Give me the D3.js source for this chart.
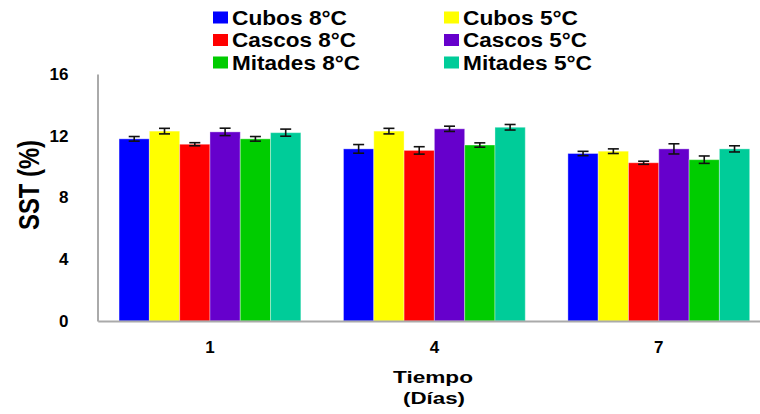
<!DOCTYPE html>
<html>
<head>
<meta charset="utf-8">
<script src="https://cdn.jsdelivr.net/npm/d3@7"></script>
<style>
  body { margin: 0; background: #fff; }
  text { font-family: "Liberation Sans", Arial, sans-serif; font-weight: bold; fill: #000; }
</style>
</head>
<body>
<div id="chart"></div>
<script>
// data
var days = ["1", "4", "7"];
var series = ["Cubos 8°C", "Cubos 5°C", "Cascos 8°C", "Cascos 5°C", "Mitades 8°C", "Mitades 5°C"];
var colors = ["#0000ff", "#ffff00", "#ff0000", "#6600cc", "#00cc00", "#00cc99"];

var cubos8 = [11.8, 11.15, 10.85];
var cubos5 = [12.3, 12.3, 11.0];
var cascos8 = [11.45, 11.05, 10.25];
var cascos5 = [12.25, 12.45, 11.15];
var mitades8 = [11.8, 11.4, 10.45];
var mitades5 = [12.2, 12.55, 11.15];

var cubos8Err = [0.15, 0.28, 0.14];
var cubos5Err = [0.18, 0.18, 0.15];
var cascos8Err = [0.1, 0.24, 0.1];
var cascos5Err = [0.24, 0.17, 0.33];
var mitades8Err = [0.15, 0.14, 0.24];
var mitades5Err = [0.23, 0.18, 0.2];

var yTicks = [0, 4, 8, 12, 16];

var values = [cubos8, cubos5, cascos8, cascos5, mitades8, mitades5];
var errors = [cubos8Err, cubos5Err, cascos8Err, cascos5Err, mitades8Err, mitades5Err];

var width = 760, height = 414;

var svg = d3.select("#chart")
    .append("svg")
    .attr("width", width)
    .attr("height", height);

var x0 = d3.scaleBand()
    .domain(days)
    .range([97.75, 771])
    .paddingInner(0.19)
    .paddingOuter(0.095);

var x1 = d3.scaleBand()
    .domain(d3.range(series.length))
    .range([0, x0.bandwidth()]);

var y = d3.scaleLinear()
    .domain([0, 16])
    .range([321, 74]);

// bars
days.forEach(function(day, di) {
    var g = svg.append("g").attr("transform", "translate(" + x0(day) + ",0)");
    series.forEach(function(s, si) {
        var v = values[si][di];
        g.append("rect")
            .attr("x", x1(si))
            .attr("y", y(v))
            .attr("width", x1.bandwidth())
            .attr("height", y(0) - y(v))
            .attr("fill", colors[si])
            .attr("stroke", "rgba(255,255,255,0.35)")
            .attr("stroke-width", 1);
    });
});

// error bars
days.forEach(function(day, di) {
    series.forEach(function(s, si) {
        var cx = x0(day) + x1(si) + x1.bandwidth() / 2;
        var v = values[si][di], e = errors[si][di];
        var eb = svg.append("g")
            .attr("stroke", "#111")
            .attr("stroke-width", 1.6);
        eb.append("line").attr("x1", cx).attr("x2", cx).attr("y1", y(v + e)).attr("y2", y(v - e));
        eb.append("line").attr("x1", cx - 5.5).attr("x2", cx + 5.5).attr("y1", y(v + e)).attr("y2", y(v + e));
        eb.append("line").attr("x1", cx - 5.5).attr("x2", cx + 5.5).attr("y1", y(v - e)).attr("y2", y(v - e));
    });
});

// axes
var yAxis = svg.append("g")
    .attr("transform", "translate(97.5,0)")
    .call(d3.axisLeft(y).tickValues(yTicks).tickSize(0).tickPadding(29));
yAxis.select(".domain").attr("stroke", "#aaaaaa").attr("stroke-width", 2);
yAxis.selectAll(".tick text")
    .style("font-size", "17px")
    .style("font-family", "Liberation Sans, Arial, sans-serif")
    .style("font-weight", "bold")
    .attr("fill", "#000");

var xAxis = svg.append("g")
    .attr("transform", "translate(0,321)")
    .call(d3.axisBottom(x0).tickSize(0).tickPadding(20));
xAxis.select(".domain").attr("stroke", "#aaaaaa").attr("stroke-width", 2);
xAxis.selectAll(".tick text")
    .style("font-size", "17px")
    .style("font-family", "Liberation Sans, Arial, sans-serif")
    .style("font-weight", "bold")
    .attr("fill", "#000");

// axis titles
svg.append("text")
    .attr("transform", "translate(39,185) rotate(-90)")
    .attr("text-anchor", "middle")
    .attr("textLength", 90)
    .attr("lengthAdjust", "spacingAndGlyphs")
    .style("font-size", "29px")
    .text("SST (%)");

svg.append("text")
    .attr("x", 433)
    .attr("y", 383)
    .attr("text-anchor", "middle")
    .attr("textLength", 80)
    .attr("lengthAdjust", "spacingAndGlyphs")
    .style("font-size", "17px")
    .text("Tiempo");

svg.append("text")
    .attr("x", 434)
    .attr("y", 404)
    .attr("text-anchor", "middle")
    .attr("textLength", 62)
    .attr("lengthAdjust", "spacingAndGlyphs")
    .style("font-size", "17px")
    .text("(Días)");

// legend: 8°C in first column, 5°C in second
var legendCols = [213, 444];
var legendRows = [17.5, 40, 62.5];
var legendWidths = [115, 115, 124, 124, 128, 129];

series.forEach(function(s, si) {
    var col = si % 2, row = Math.floor(si / 2);
    var lg = svg.append("g")
        .attr("transform", "translate(" + legendCols[col] + "," + legendRows[row] + ")");
    lg.append("rect")
        .attr("x", 0)
        .attr("y", -6)
        .attr("width", 15)
        .attr("height", 12)
        .attr("fill", colors[si]);
    lg.append("text")
        .attr("x", 19)
        .attr("y", 7)
        .attr("textLength", legendWidths[si])
        .attr("lengthAdjust", "spacingAndGlyphs")
        .style("font-size", "19.5px")
        .text(s);
});
</script>
</body>
</html>
